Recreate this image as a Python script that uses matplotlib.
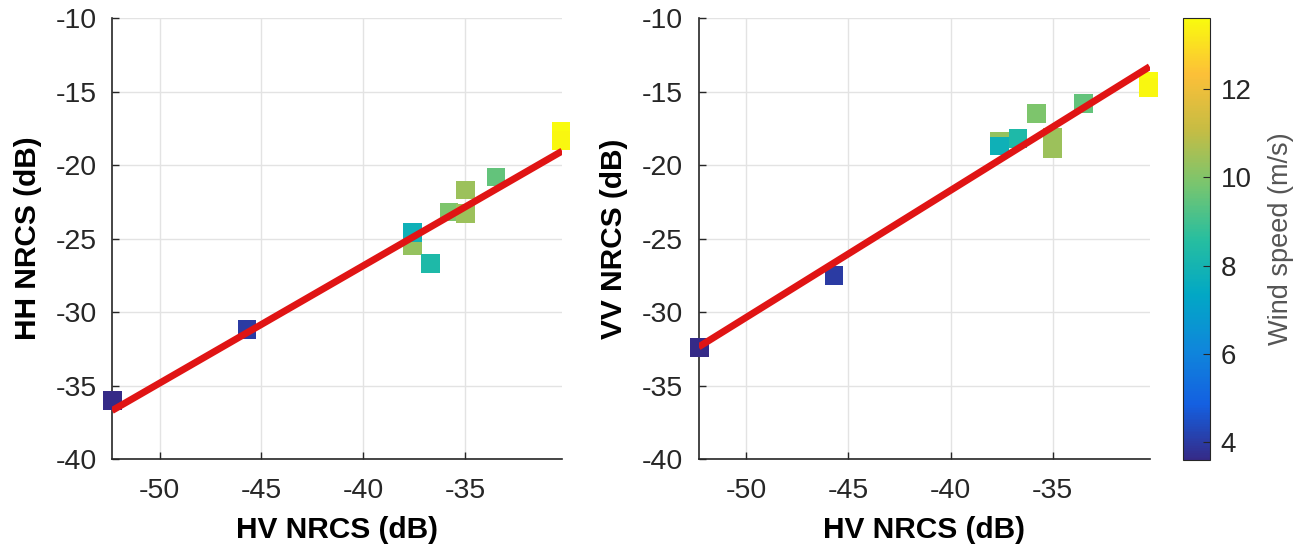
import numpy as np
import matplotlib
matplotlib.use("Agg")
import matplotlib.pyplot as plt
from matplotlib.colors import LinearSegmentedColormap

# data
hv = [-52.3, -45.7, -37.6, -37.6, -36.7, -35.8, -35.0, -35.0, -33.5, -30.3, -30.3]
hh = [-36.0, -31.2, -25.5, -24.6, -26.7, -23.2, -21.7, -23.3, -20.8, -17.7, -18.3]
vv = [-32.4, -27.5, -18.4, -18.7, -18.2, -16.5, -18.1, -18.9, -15.8, -14.3, -14.7]
wind = [3.6, 4.0, 10.3, 7.8, 8.3, 9.9, 10.4, 10.4, 9.5, 13.6, 13.5]

# regression lines (slope, intercept)
fit_hh = (0.80, 5.16)
fit_vv = (0.864, 12.84)

x_range = (-52.33, -30.25)
y_range = (-40, -10)
x_ticks = [-50, -45, -40, -35]
y_ticks = [-40, -35, -30, -25, -20, -15, -10]
cbar_ticks = [4, 6, 8, 10, 12]
wind_range = (3.6, 13.6)

# approximate MATLAB parula
parula = LinearSegmentedColormap.from_list("parula", [
    (0.2081, 0.1663, 0.5292),
    (0.0780, 0.3754, 0.8819),
    (0.0590, 0.5290, 0.8590),
    (0.0060, 0.6590, 0.7720),
    (0.1540, 0.7460, 0.6240),
    (0.4730, 0.7740, 0.4340),
    (0.7790, 0.7380, 0.2640),
    (0.9900, 0.7520, 0.2200),
    (0.9763, 0.9831, 0.0538),
])

plt.rcParams["font.family"] = ["Liberation Sans", "DejaVu Sans"]
plt.rcParams["axes.unicode_minus"] = False
dark = "#262626"

fig = plt.figure(figsize=(13.01, 5.53), dpi=100)
ax1 = fig.add_axes([0.0861, 0.170, 0.346, 0.797])
ax2 = fig.add_axes([0.537, 0.170, 0.3467, 0.797])
cax = fig.add_axes([0.909, 0.168, 0.0208, 0.799])


def panel(ax, y, fit, ylabel):
    ax.grid(True, color="#e3e3e3", linewidth=1)
    ax.set_axisbelow(True)
    sc = ax.scatter(hv, y, c=wind, cmap=parula, vmin=wind_range[0], vmax=wind_range[1],
                    marker="s", s=180, edgecolors="none", zorder=3, clip_on=False)
    xs = np.array(x_range)
    ax.plot(xs, fit[0] * xs + fit[1], color="#e01414", linewidth=5, zorder=4,
            solid_capstyle="butt")
    ax.set_xlim(x_range)
    ax.set_ylim(y_range)
    ax.set_xticks(x_ticks)
    ax.set_yticks(y_ticks)
    for s in ["top", "right"]:
        ax.spines[s].set_visible(False)
    for s in ["left", "bottom"]:
        ax.spines[s].set_color(dark)
        ax.spines[s].set_linewidth(1.2)
    ax.tick_params(direction="in", length=5, width=1, colors=dark, labelsize=20.5)
    ax.tick_params(axis="y", pad=11)
    ax.tick_params(axis="x", pad=14)
    ax.set_xlabel("HV NRCS (dB)", fontsize=21.5, fontweight="bold", labelpad=8)
    ax.set_ylabel(ylabel, fontsize=21.5, fontweight="bold", labelpad=10)
    return sc


panel(ax1, hh, fit_hh, "HH NRCS (dB)")
sc = panel(ax2, vv, fit_vv, "VV NRCS (dB)")

cb = fig.colorbar(sc, cax=cax)
cb.set_ticks(cbar_ticks)
cb.ax.tick_params(direction="in", length=5, colors=dark, labelsize=20, pad=8)
cb.outline.set_edgecolor(dark)
cb.set_label("Wind speed (m/s)", fontsize=19.5, color="#555555", labelpad=12)

fig.savefig("out.png", dpi=100)
